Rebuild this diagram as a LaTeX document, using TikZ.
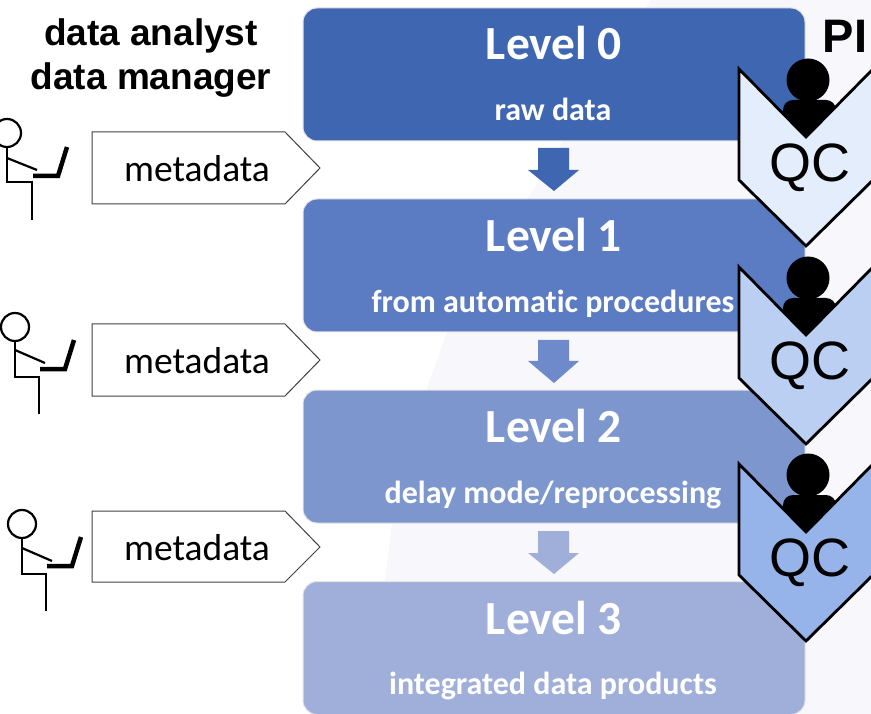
\documentclass[tikz,border=0pt]{standalone}
\usepackage{fontspec}
\setmainfont{Carlito}[Ligatures=NoCommon]
\newfontfamily\arialfont{Liberation Sans}
\definecolor{levelA}{HTML}{3F67B1}
\definecolor{levelB}{HTML}{5B7BC3}
\definecolor{levelC}{HTML}{7D96CE}
\definecolor{levelD}{HTML}{A0AFDA}
\definecolor{arrowB}{HTML}{6E8ACB}
\definecolor{qcA}{HTML}{E3EDFC}
\definecolor{qcB}{HTML}{BBCFF2}
\definecolor{qcC}{HTML}{97B4EA}
\definecolor{backshade}{HTML}{F7F7FC}
\tikzset{
levelbox/.style={draw=white!80!gray,line width=1pt,rounded corners=14pt,minimum width=502pt,minimum height=133pt,inner sep=0pt},
leveltext/.style={text=white,font=\fontsize{47.5}{47.5}\selectfont\bfseries,inner sep=0pt},
subtext/.style={text=white,font=\fontsize{32}{32}\selectfont\bfseries,inner sep=0pt},
metatext/.style={font=\fontsize{37.5}{37.5}\selectfont,inner sep=0pt},
roletext/.style={font=\arialfont\fontsize{37}{44}\selectfont\bfseries,align=center,inner sep=0pt},
pitext/.style={font=\arialfont\fontsize{47}{47}\selectfont\bfseries,inner sep=0pt},
qctext/.style={font=\arialfont\fontsize{54}{54}\selectfont,inner sep=0pt},
metashape/.style={draw=black!75,line width=1pt,fill=white},
chevron/.style={draw=black,line width=2.8pt,line join=miter},
stick/.style={line width=2.2pt},
laptop/.style={line width=4.5pt},
}
\begin{document}
\begin{tikzpicture}[x=1pt,y=-1pt]
\useasboundingbox (0,0) rectangle (871,714);
\fill[backshade] (650,0)--(533,190)--(448,330)--(428,385)--(392,525)--(385,580)--(370,714)--(871,714)--(871,0)--cycle;

\node[roletext] (analyst) at (151,58) {data analyst\\data manager};
\node[pitext] (pi) at (845,36) {PI};

\node[levelbox,fill=levelA] (level0) at (554,74.5) {};
\node[levelbox,fill=levelB] (level1) at (554,265.5) {};
\node[levelbox,fill=levelC] (level2) at (554,456.5) {};
\node[levelbox,fill=levelD] (level3) at (554,648) {};

\node[leveltext] (title0) at (554,43) {Level 0};
\node[leveltext] (title1) at (554,235) {Level 1};
\node[leveltext] (title2) at (554,426) {Level 2};
\node[leveltext] (title3) at (554,618) {Level 3};

\node[subtext] (sub0) at (553,109) {raw data};
\node[subtext] (sub1) at (553,304) {from automatic procedures};
\node[subtext] (sub2) at (553,495) {delay mode/reprocessing};
\node[subtext] (sub3) at (553,686) {integrated data products};

\fill[levelA] (538,148)--(569,148)--(569,170)--(579,170)--(554,191)--(528,170)--(538,170)--cycle;
\fill[arrowB] (538,340)--(569,340)--(569,361)--(579,361)--(554,383)--(528,361)--(538,361)--cycle;
\fill[levelD] (538,531)--(569,531)--(569,553)--(579,553)--(554,574)--(528,553)--(538,553)--cycle;

\draw[metashape] (92,132)--(285,132)--(320,168)--(285,204)--(92,204)--cycle;
\draw[metashape] (92,324)--(285,324)--(320,360)--(285,396)--(92,396)--cycle;
\draw[metashape] (92,511)--(285,511)--(320,547)--(285,582)--(92,582)--cycle;
\node[metatext] (meta0) at (197,169) {metadata};
\node[metatext] (meta1) at (197,361) {metadata};
\node[metatext] (meta2) at (197,548) {metadata};

\draw[stick] (7,133) circle (14);
\draw[stick] (7,147)--(7,182)--(32,182)--(32,220);
\draw[stick] (7,158)--(37,170);
\draw[laptop] (33,176)--(58,176)--(67,147);

\draw[stick] (15,327) circle (14);
\draw[stick] (15,341)--(15,377)--(39,377)--(39,414);
\draw[stick] (15,350)--(45,363);
\draw[laptop] (40,369)--(65,369)--(74,340);

\draw[stick] (22,524) circle (14);
\draw[stick] (22,538)--(22,574)--(46,574)--(46,611);
\draw[stick] (22,548)--(52,561);
\draw[laptop] (47,566)--(72,566)--(81,537);

\fill (808,80) circle (21.5);
\fill[rounded corners=10pt] (783,135)--(783,100)--(836,100)--(836,135)--cycle;
\draw[chevron,fill=qcA] (739,69)--(806,137)--(873,69)--(873,180)--(806,246)--(739,180)--cycle;
\node[qctext] (qc0) at (810,168) {QC};

\fill (808,278) circle (21.5);
\fill[rounded corners=10pt] (783,333)--(783,298)--(836,298)--(836,333)--cycle;
\draw[chevron,fill=qcB] (739,267)--(806,335)--(873,267)--(873,378)--(806,444)--(739,378)--cycle;
\node[qctext] (qc1) at (810,366) {QC};

\fill (808,475) circle (21.5);
\fill[rounded corners=10pt] (783,530)--(783,495)--(836,495)--(836,530)--cycle;
\draw[chevron,fill=qcC] (739,464)--(806,532)--(873,464)--(873,575)--(806,641)--(739,575)--cycle;
\node[qctext] (qc2) at (810,563) {QC};
\end{tikzpicture}
\end{document}
